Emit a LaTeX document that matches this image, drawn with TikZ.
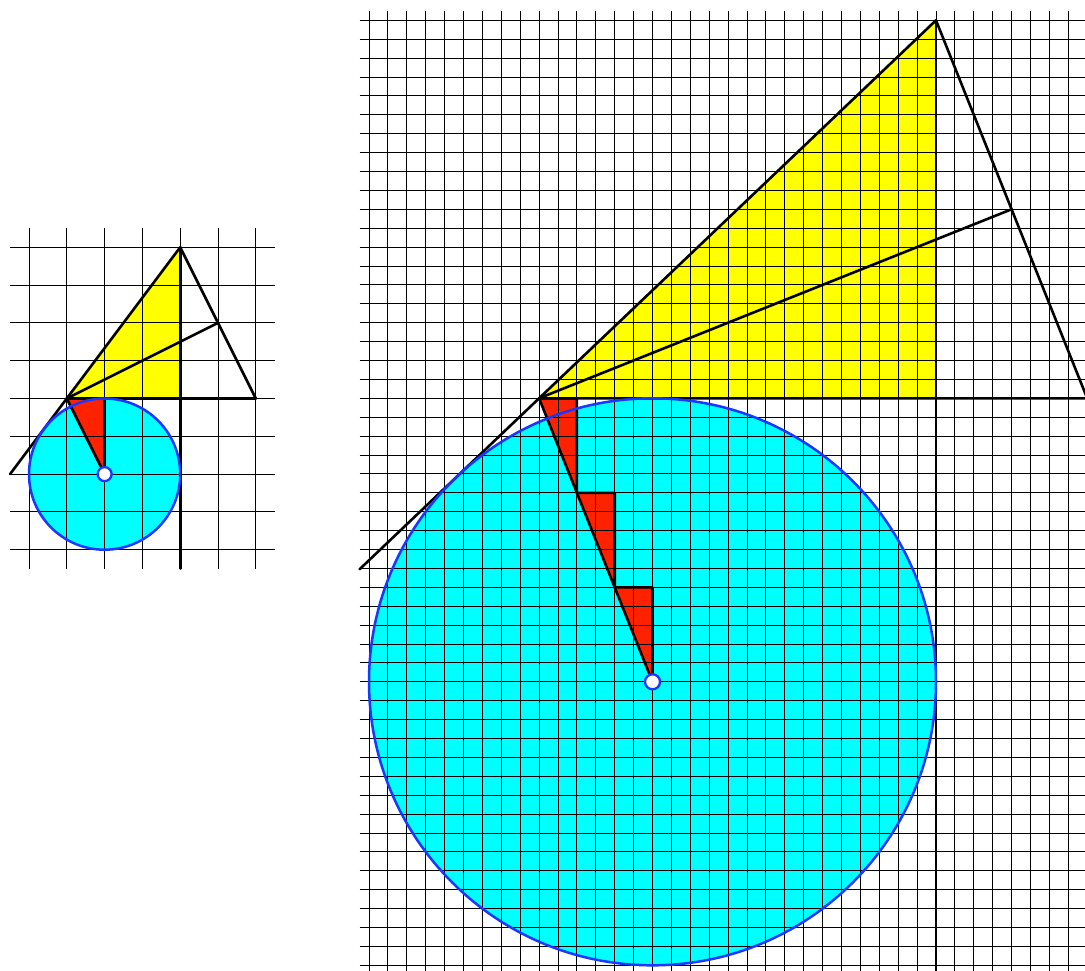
\documentclass[tikz,border=0pt]{standalone}
\definecolor{myyellow}{RGB}{255,255,0}
\definecolor{mycyan}{RGB}{0,255,255}
\definecolor{myred}{RGB}{255,34,0}
\definecolor{myblue}{RGB}{25,55,255}
\tikzset{
  gridline/.style={black, line width=1pt},
  thickline/.style={black, line width=2.6pt, line cap=round, line join=round},
  yellowfill/.style={fill=myyellow},
  circfill/.style={fill=mycyan},
  redfill/.style={fill=myred},
  circborder/.style={draw=myblue, line width=2.5pt},
  centerdot/.style={circle, draw=myblue, fill=white, line width=2.3pt, inner sep=0pt},
}
\begin{document}
\begin{tikzpicture}
\path[use as bounding box] (0pt,0pt) rectangle (1085pt,-970pt);
\clip (0pt,0pt) rectangle (1085pt,-970pt);
% ---------- small figure ----------
\begin{scope}[shift={(29pt,-247.3pt)}, x=37.8pt, y=-37.8pt]
  \coordinate (sA) at (1,4);
  \coordinate (sB) at (4,0);
  \coordinate (sC) at (6,4);
  \coordinate (sH) at (4,4);
  \coordinate (sM) at (5,2);
  \coordinate (sO) at (2,6);
  \coordinate (sR) at (2,4);
  \coordinate (sE) at (-0.5,6);
  \coordinate (sF) at (4,8.5);
  \fill[yellowfill] (sA) -- (sB) -- (sH) -- cycle;
  \fill[circfill] (sO) circle[radius=2];
  \fill[redfill] (sA) -- (sR) -- (sO) -- cycle;
  \foreach \i in {0,...,6} \draw[gridline] (\i,-0.5) -- (\i,8.5);
  \foreach \j in {0,...,8} \draw[gridline] (-0.5,\j) -- (6.5,\j);
  \draw[thickline] (sA) -- (sR) -- (sO) -- cycle;
  \draw[thickline] (sA) -- (sB) -- (sC) -- cycle;
  \draw[thickline] (sE) -- (sA);
  \draw[thickline] (sB) -- (sF);
  \draw[thickline] (sA) -- (sM);
  \draw[circborder] (sO) circle[radius=2];
  \node[centerdot, minimum size=14pt] (sDot) at (sO) {};
\end{scope}
% ---------- big figure ----------
\begin{scope}[shift={(369pt,-20.3pt)}, x=18.9pt, y=-18.9pt]
  \coordinate (A) at (9,20);
  \coordinate (B) at (30,0);
  \coordinate (C) at (38,20);
  \coordinate (H) at (30,20);
  \coordinate (M) at (34,10);
  \coordinate (O) at (15,35);
  \coordinate (E) at (-0.5,29.0476);
  \coordinate (F) at (30,52);
  \coordinate (P1) at (11,20);
  \coordinate (Q1) at (11,25);
  \coordinate (P2) at (13,25);
  \coordinate (Q2) at (13,30);
  \coordinate (P3) at (15,30);
  \fill[yellowfill] (A) -- (B) -- (H) -- cycle;
  \fill[circfill] (O) circle[radius=15];
  \fill[redfill] (A) -- (P1) -- (Q1) -- cycle;
  \fill[redfill] (Q1) -- (P2) -- (Q2) -- cycle;
  \fill[redfill] (Q2) -- (P3) -- (O) -- cycle;
  \foreach \i in {0,...,37} \draw[gridline] (\i,-0.5) -- (\i,52);
  \foreach \j in {0,...,50} \draw[gridline] (-0.5,\j) -- (39,\j);
  \draw[thickline] (A) -- (P1) -- (Q1) -- cycle;
  \draw[thickline] (Q1) -- (P2) -- (Q2) -- cycle;
  \draw[thickline] (Q2) -- (P3) -- (O) -- cycle;
  \draw[thickline] (A) -- (B) -- (C) -- cycle;
  \draw[thickline] (E) -- (A);
  \draw[thickline] (B) -- (F);
  \draw[thickline] (A) -- (M);
  \draw[circborder] (O) circle[radius=15];
  \node[centerdot, minimum size=15pt] (Dot) at (O) {};
\end{scope}
\end{tikzpicture}
\end{document}
